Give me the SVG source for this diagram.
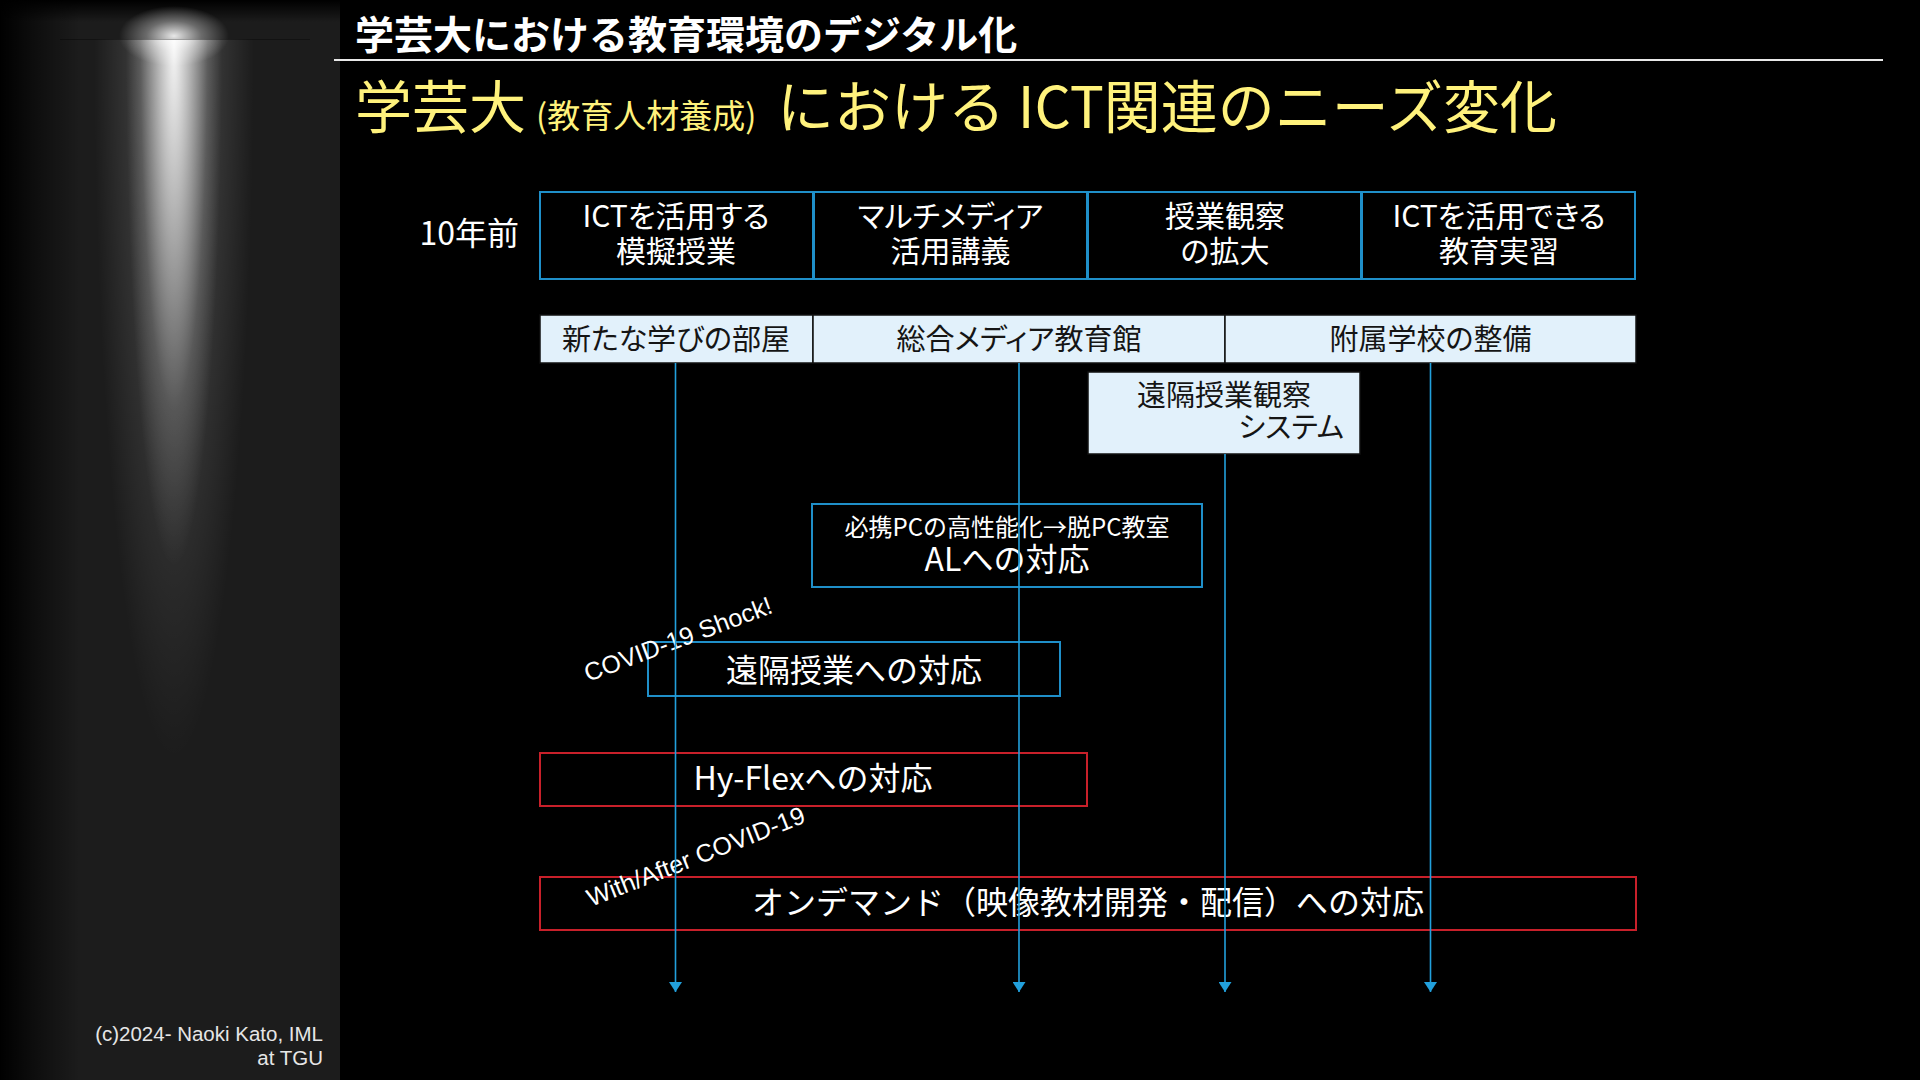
<svg xmlns="http://www.w3.org/2000/svg" width="1920" height="1080" viewBox="0 0 1920 1080">
<defs>
<style>
.jp{font-family:"Noto Sans CJK JP","Noto Sans",sans-serif;}
.box{fill:none;stroke:#1f8fc9;stroke-width:2;}
.red{fill:none;stroke:#c8202a;stroke-width:2;}
.lt{fill:#e2f1fb;stroke:#111;stroke-width:1.5;}
.wt{fill:#ffffff;}
.dk{fill:#151515;}
.pal{font-feature-settings:"palt";}
.c{text-anchor:middle;}
.conn{stroke:#22a0dc;stroke-width:1.6;fill:none;}
.lat{font-family:"Liberation Sans",Arial,sans-serif;}
</style>
<marker id="arr" viewBox="0 0 10 13" refX="10" refY="6.5" markerWidth="10" markerHeight="13" markerUnits="userSpaceOnUse" orient="auto">
<path d="M0,0 L10,6.5 L0,13 z" fill="#22a0dc"/>
</marker>
<linearGradient id="leftEdge" x1="0" y1="0" x2="1" y2="0">
<stop offset="0" stop-color="#000" stop-opacity="1"/>
<stop offset="0.45" stop-color="#000" stop-opacity="0.5"/>
<stop offset="1" stop-color="#000" stop-opacity="0"/>
</linearGradient>
<linearGradient id="topEdge" x1="0" y1="0" x2="0" y2="1">
<stop offset="0" stop-color="#000" stop-opacity="1"/>
<stop offset="1" stop-color="#000" stop-opacity="0"/>
</linearGradient>
<radialGradient id="beam" gradientUnits="userSpaceOnUse" cx="174" cy="39" r="48" gradientTransform="translate(174 39) scale(1 11) translate(-174 -39)">
<stop offset="0" stop-color="#fff" stop-opacity="0.95"/>
<stop offset="0.3" stop-color="#fff" stop-opacity="0.62"/>
<stop offset="0.7" stop-color="#fff" stop-opacity="0.16"/>
<stop offset="1" stop-color="#fff" stop-opacity="0"/>
</radialGradient>
<radialGradient id="beamWide" gradientUnits="userSpaceOnUse" cx="174" cy="39" r="80" gradientTransform="translate(174 39) scale(1 9) translate(-174 -39)">
<stop offset="0" stop-color="#fff" stop-opacity="0.25"/>
<stop offset="1" stop-color="#fff" stop-opacity="0"/>
</radialGradient>
<radialGradient id="glow" cx="0.5" cy="0.5" r="0.5">
<stop offset="0" stop-color="#fff" stop-opacity="0.9"/>
<stop offset="0.5" stop-color="#fff" stop-opacity="0.35"/>
<stop offset="1" stop-color="#fff" stop-opacity="0"/>
</radialGradient>
<clipPath id="below"><rect x="0" y="39" width="340" height="1041"/></clipPath>
</defs>

<rect x="0" y="0" width="1920" height="1080" fill="#000"/>

<!-- left decorative panel -->
<g id="panel">
<rect x="0" y="0" width="340" height="1080" fill="#1c1c1c"/>
<rect x="0" y="0" width="80" height="1080" fill="url(#leftEdge)"/>
<rect x="0" y="0" width="340" height="22" fill="url(#topEdge)"/>
<ellipse cx="174" cy="36" rx="55" ry="30" fill="url(#glow)"/>
<g clip-path="url(#below)">
<rect x="85" y="39" width="180" height="740" fill="url(#beamWide)"/>
<rect x="115" y="39" width="120" height="540" fill="url(#beam)"/>
</g>
<line x1="60" y1="39.5" x2="310" y2="39.5" stroke="#000" stroke-opacity="0.35" stroke-width="1"/>
<text class="lat" x="323" y="1041" font-size="20.5" fill="#e6e6e6" text-anchor="end">(c)2024- Naoki Kato, IML</text>
<text class="lat" x="323" y="1065" font-size="20.5" fill="#e6e6e6" text-anchor="end">at TGU</text>
</g>

<!-- header -->
<g id="header">
<text class="jp" x="355" y="49" font-size="39" font-weight="700" fill="#fff">学芸大における教育環境のデジタル化</text>
<line x1="334" y1="60" x2="1883" y2="60" stroke="#e8e8e8" stroke-width="2"/>
<text class="jp" y="128" font-weight="400" fill="#fff27c"><tspan x="355" font-size="57">学芸大</tspan><tspan x="536" font-size="33">(教育人材養成)</tspan><tspan x="777" font-size="57">における ICT関連のニーズ変化</tspan></text>
</g>

<text class="jp" x="519" y="245" font-size="32" fill="#fff" text-anchor="end">10年前</text>

<!-- top row -->
<g id="n-mogi">
<rect class="box" x="540" y="192" width="273" height="87"/>
<text class="jp wt c pal" x="676" y="227" font-size="30">ICTを活用する</text>
<text class="jp wt c pal" x="676" y="262" font-size="30">模擬授業</text>
</g>
<g id="n-multimedia">
<rect class="box" x="814" y="192" width="273" height="87"/>
<text class="jp wt c pal" x="950.5" y="227" font-size="30">マルチメディア</text>
<text class="jp wt c pal" x="950.5" y="262" font-size="30">活用講義</text>
</g>
<g id="n-kansatsu">
<rect class="box" x="1088" y="192" width="273" height="87"/>
<text class="jp wt c pal" x="1225" y="227" font-size="30">授業観察</text>
<text class="jp wt c pal" x="1225" y="262" font-size="30">の拡大</text>
</g>
<g id="n-jisshu">
<rect class="box" x="1362" y="192" width="273" height="87"/>
<text class="jp wt c pal" x="1499" y="227" font-size="30">ICTを活用できる</text>
<text class="jp wt c pal" x="1499" y="262" font-size="30">教育実習</text>
</g>

<!-- second row -->
<g id="n-heya">
<rect class="lt" x="540" y="315" width="273" height="48"/>
<text class="jp dk c pal" x="676" y="350" font-size="29">新たな学びの部屋</text>
</g>
<g id="n-mediakan">
<rect class="lt" x="813" y="315" width="412" height="48"/>
<text class="jp dk c pal" x="1019" y="350" font-size="29">総合メディア教育館</text>
</g>
<g id="n-fuzoku">
<rect class="lt" x="1225" y="315" width="411" height="48"/>
<text class="jp dk c pal" x="1430.5" y="350" font-size="29">附属学校の整備</text>
</g>
<g id="n-enkaku-kansatsu">
<rect class="lt" x="1088" y="372" width="272" height="82"/>
<text class="jp dk c pal" x="1224" y="406" font-size="29">遠隔授業観察</text>
<text class="jp dk pal" x="1344" y="438" font-size="29" text-anchor="end">システム</text>
</g>

<!-- lower nodes -->
<g id="n-al">
<rect class="box" x="812" y="504" width="390" height="83"/>
<text class="jp wt c" x="1007" y="535.5" font-size="24">必携PCの高性能化→脱PC教室</text>
<text class="jp wt c" x="1007" y="570.5" font-size="32">ALへの対応</text>
</g>
<g id="n-enkaku">
<rect class="box" x="648" y="642" width="412" height="54"/>
<text class="jp wt c" x="854" y="681.5" font-size="32">遠隔授業への対応</text>
<text class="lat wt" x="588" y="682" font-size="25" transform="rotate(-20.5 588 682)">COVID-19 Shock!</text>
</g>
<g id="n-hyflex">
<rect class="red" x="540" y="753" width="547" height="53"/>
<text class="jp wt c" x="813" y="790" font-size="32">Hy-Flexへの対応</text>
</g>
<g id="n-ondemand">
<rect class="red" x="540" y="877" width="1096" height="53"/>
<text class="jp wt c" x="1088" y="914" font-size="32">オンデマンド（映像教材開発・配信）への対応</text>
<text class="lat wt" x="591" y="907" font-size="25" transform="rotate(-21.5 591 907)">With/After COVID-19</text>
</g>

<!-- connectors -->
<g id="connectors">
<line class="conn" x1="675.5" y1="363" x2="675.5" y2="992" marker-end="url(#arr)"/>
<line class="conn" x1="1019" y1="363" x2="1019" y2="992" marker-end="url(#arr)"/>
<line class="conn" x1="1225" y1="454" x2="1225" y2="992" marker-end="url(#arr)"/>
<line class="conn" x1="1430.5" y1="363" x2="1430.5" y2="992" marker-end="url(#arr)"/>
</g>
</svg>
